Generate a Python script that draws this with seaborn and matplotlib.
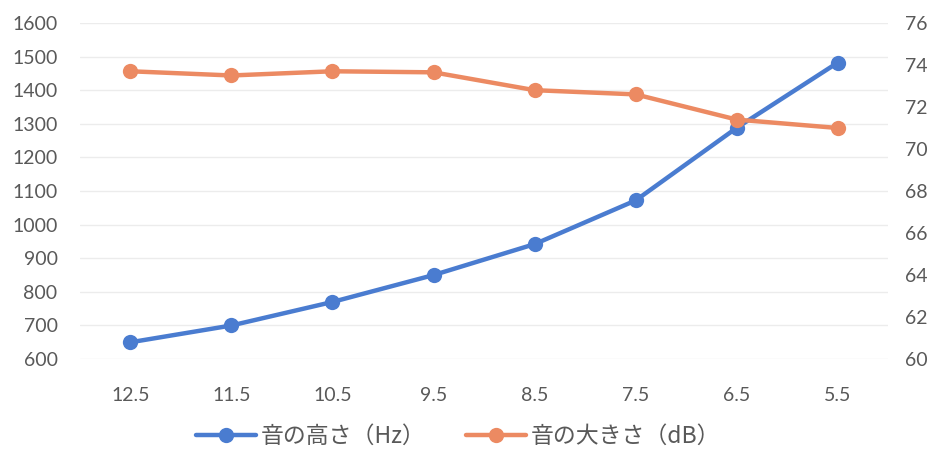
import numpy as np
import pandas as pd
import matplotlib
matplotlib.use("Agg")
import matplotlib.pyplot as plt
import seaborn as sns
from matplotlib.lines import Line2D

categories = ["12.5", "11.5", "10.5", "9.5", "8.5", "7.5", "6.5", "5.5"]
pitch_hz = [650, 700, 770, 850, 942, 1072, 1288, 1482]
loudness_db = [73.7, 73.5, 73.7, 73.65, 72.8, 72.6, 71.4, 71.0]
label_pitch = "音の高さ（Hz）"
label_loud = "音の大きさ（dB）"

blue = "#4a7cd0"
orange = "#ec8a62"
tick_color = "#595959"

sns.set_theme(style="white")
plt.rcParams["font.family"] = ["Lato", "Noto Sans CJK JP", "DejaVu Sans"]

df = pd.DataFrame({"pos": np.arange(len(categories)), "cat": categories,
                   "hz": pitch_hz, "db": loudness_db})

fig = plt.figure(figsize=(9.39, 4.5), dpi=100)
ax = fig.add_axes([0.085, 0.202, 0.861, 0.747])
ax2 = ax.twinx()

sns.lineplot(data=df, x="pos", y="hz", ax=ax, color=blue, lw=3.2,
             marker="o", markersize=11, markeredgewidth=0, sort=False)
sns.lineplot(data=df, x="pos", y="db", ax=ax2, color=orange, lw=3.2,
             marker="o", markersize=11, markeredgewidth=0, sort=False)

ax.set_xlim(-0.5, len(categories) - 0.5)
ax.set_ylim(600, 1600)
ax.set_yticks(np.arange(600, 1601, 100))
ax2.set_ylim(60, 76)
ax2.set_yticks(np.arange(60, 77, 2))
ax.set_xticks(df["pos"])
ax.set_xticklabels(categories)

ax.grid(axis="y", color="#ececec", lw=1)
ax.set_axisbelow(True)

for a in (ax, ax2):
    for s in a.spines.values():
        s.set_visible(False)
    a.set_xlabel("")
    a.set_ylabel("")
    a.tick_params(length=0, labelsize=14, colors=tick_color)
ax.tick_params(axis="x", pad=20)
ax.tick_params(axis="y", pad=16)
ax2.tick_params(axis="y", pad=12)

handles = [Line2D([], [], color=blue, lw=3.2, marker="o", markersize=11, markeredgewidth=0),
           Line2D([], [], color=orange, lw=3.2, marker="o", markersize=11, markeredgewidth=0)]
fig.legend(handles, [label_pitch, label_loud], loc="center", bbox_to_anchor=(0.488, 0.03),
           ncol=2, frameon=False, handlelength=2.6, handletextpad=0.2, columnspacing=1.8,
           labelcolor=tick_color, prop={"family": ["Noto Sans CJK JP", "DejaVu Sans"], "size": 16.5})

fig.savefig("out.png", dpi=100)
